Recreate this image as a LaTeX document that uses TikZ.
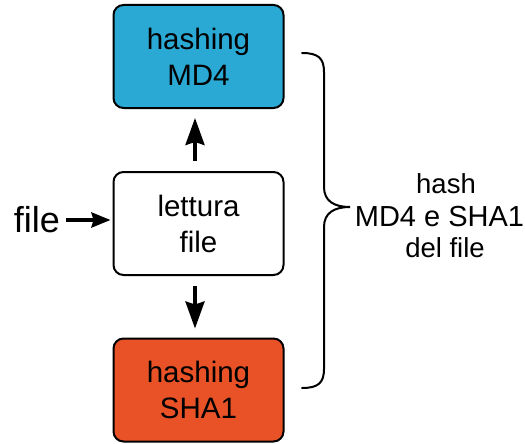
\documentclass[tikz,border=0pt]{standalone}
\usepackage{fontspec}
\setmainfont{Liberation Sans}
\usetikzlibrary{arrows.meta}
\definecolor{mdblue}{HTML}{2AA9D4}
\definecolor{shaorange}{HTML}{E85226}
\begin{document}
\begin{tikzpicture}[x=1pt,y=-1pt,
  stepbox/.style={draw=black,line width=2pt,rounded corners=10pt,minimum width=170pt,minimum height=103pt,align=center,inner sep=0pt,font=\fontsize{29.5}{36}\selectfont},
  vflow/.style={line width=3.5pt,-{Stealth[length=27pt,width=19pt,inset=3pt]}},
  hflow/.style={line width=3.5pt,-{Stealth[length=19pt,width=15pt,inset=2pt]}},
  bracecurve/.style={draw=black,line width=2pt,line cap=round},
  restext/.style={anchor=base,inner sep=0pt,font=\fontsize{27.5}{32}\selectfont}]
\clip (0,0) rectangle (525,444);
\node[stepbox,fill=mdblue] (md4) at (198.5,56.5) {hashing\\MD4};
\node[stepbox,fill=white] (mid) at (198.5,223.5) {lettura\\file};
\node[stepbox,fill=shaorange] (sha) at (198.5,390) {hashing\\SHA1};
\node[inner sep=0pt,font=\fontsize{36}{40}\selectfont] (fin) at (37,220) {file};
\node[restext] (res1) at (446,193) {hash};
\node[restext,font=\fontsize{29}{32}\selectfont] (res2) at (439.5,226) {MD4 e SHA1};
\node[restext] (res3) at (445,257) {del file};
\draw[vflow,shorten <=10pt,shorten >=9pt] ([xshift=-3.5pt]mid.north) -- ([xshift=-3.5pt]md4.south);
\draw[vflow,shorten <=10pt,shorten >=9pt] ([xshift=-3.5pt]mid.south) -- ([xshift=-3.5pt]sha.north);
\draw[hflow,shorten <=6pt,shorten >=2pt] (fin.east) -- (mid.west |- fin.east);
\coordinate (btop) at (302,53);
\coordinate (bbot) at (302,388);
\coordinate (btip) at (350,207);
\draw[bracecurve] (btop) .. controls (318,53) and (324,58) .. (324,72) -- (324,187)
  .. controls (324,201) and (334,207) .. (btip)
  .. controls (334,207) and (324,213) .. (324,227) -- (324,369)
  .. controls (324,383) and (318,388) .. (bbot);
\end{tikzpicture}
\end{document}
